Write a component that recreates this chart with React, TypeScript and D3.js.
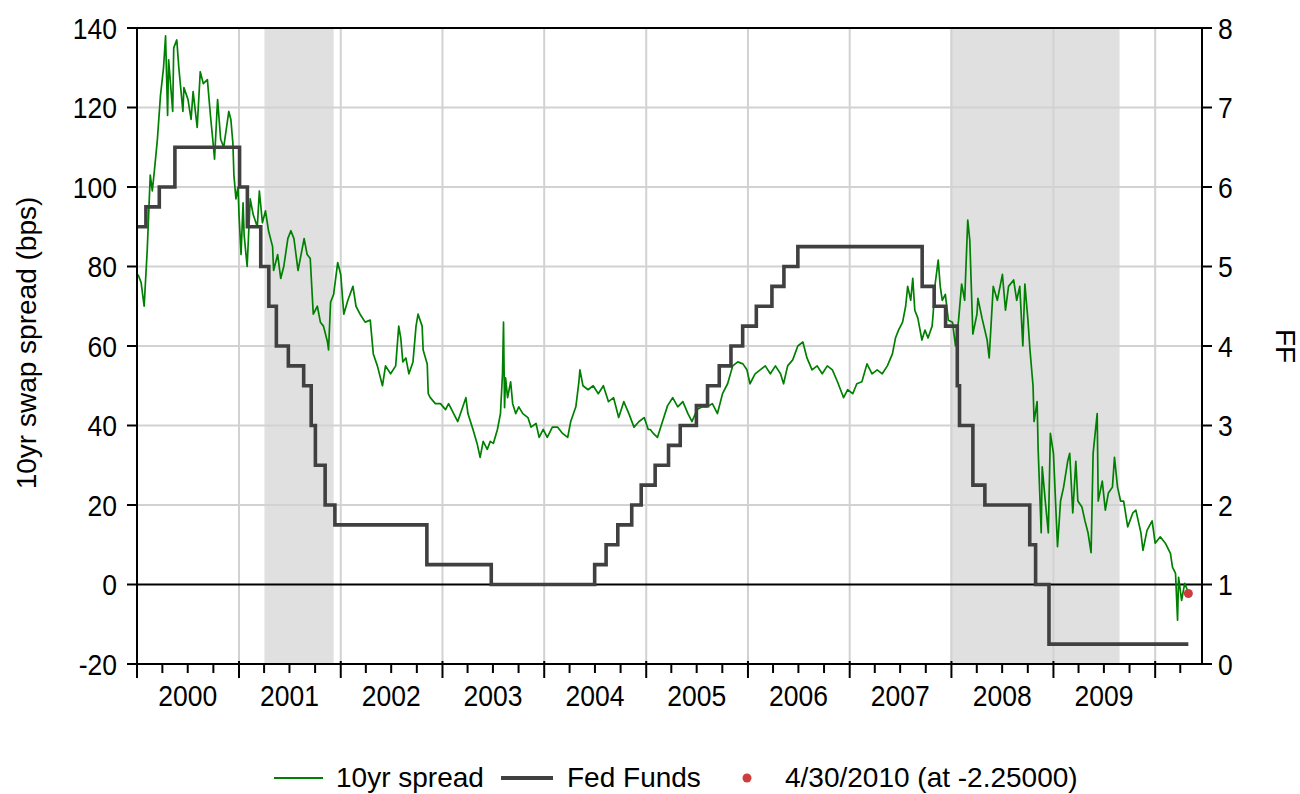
import React from "react";
import * as d3 from "d3";

// ---------- DATA ----------
// Fed funds target rate changes: [date, rate %]
const fedFundsDates = [
  "2000-01-01", "2000-02-02", "2000-03-21", "2000-05-16", "2001-01-03", "2001-01-31",
  "2001-03-20", "2001-04-18", "2001-05-15", "2001-06-27", "2001-08-21", "2001-09-17",
  "2001-10-02", "2001-11-06", "2001-12-11", "2002-11-06", "2003-06-25", "2004-06-30",
  "2004-08-10", "2004-09-21", "2004-11-10", "2004-12-14", "2005-02-02", "2005-03-22",
  "2005-05-03", "2005-06-30", "2005-08-09", "2005-09-20", "2005-11-01", "2005-12-13",
  "2006-01-31", "2006-03-28", "2006-05-10", "2006-06-29", "2007-09-18", "2007-10-31",
  "2007-12-11", "2008-01-22", "2008-01-30", "2008-03-18", "2008-04-30", "2008-10-08",
  "2008-10-29", "2008-12-16", "2010-04-30",
];
const fedFundsRates = [
  5.5, 5.75, 6.0, 6.5, 6.0, 5.5,
  5.0, 4.5, 4.0, 3.75, 3.5, 3.0,
  2.5, 2.0, 1.75, 1.25, 1.0, 1.25,
  1.5, 1.75, 2.0, 2.25, 2.5, 2.75,
  3.0, 3.25, 3.5, 3.75, 4.0, 4.25,
  4.5, 4.75, 5.0, 5.25, 4.75, 4.5,
  4.25, 3.5, 3.0, 2.25, 2.0, 1.5,
  1.0, 0.25, 0.25,
];

// 10yr swap spread (bps), [decimal year, value]
const spread: [number, number][] = [
  [2000.01,78],[2000.04,76],[2000.07,70],[2000.10,84],[2000.13,103],[2000.15,99],[2000.17,104],[2000.20,112],[2000.23,123],[2000.26,130],[2000.28,138],[2000.30,118],[2000.31,132],[2000.35,119],[2000.36,135],[2000.39,137],[2000.41,130],[2000.45,119],[2000.46,125],[2000.50,122],[2000.53,117],[2000.55,124],[2000.59,115],[2000.62,129],[2000.65,126],[2000.69,127],[2000.72,118],[2000.75,110],[2000.76,107],[2000.79,122],[2000.82,112],[2000.85,110],[2000.90,119],[2000.92,117],[2000.94,111],[2000.95,103],[2000.97,97],[2000.99,100],
  [2001.00,93],[2001.02,83],[2001.04,96],[2001.05,88],[2001.08,80],[2001.11,97],[2001.14,93],[2001.18,90],[2001.20,99],[2001.23,91],[2001.26,94],[2001.29,89],[2001.33,85],[2001.34,79],[2001.38,83],[2001.41,77],[2001.44,80],[2001.48,87],[2001.51,89],[2001.54,87],[2001.58,79],[2001.61,83],[2001.64,87],[2001.67,83],[2001.70,82],[2001.73,68],[2001.77,70],[2001.80,66],[2001.83,65],[2001.87,61],[2001.88,59],[2001.90,71],[2001.93,73],[2001.97,81],
  [2002.00,78],[2002.03,68],[2002.07,71.5],[2002.12,75],[2002.15,70],[2002.19,68],[2002.24,66],[2002.29,66.5],[2002.32,58],[2002.36,55],[2002.41,50],[2002.44,55],[2002.49,53],[2002.54,55],[2002.57,65],[2002.59,62],[2002.61,56],[2002.64,57],[2002.67,53],[2002.71,56],[2002.74,65],[2002.76,68],[2002.80,65],[2002.81,59],[2002.85,55.5],[2002.86,48],[2002.88,47],[2002.93,45.5],[2002.98,45.5],
  [2003.03,44],[2003.06,45.5],[2003.11,43],[2003.15,41],[2003.20,44.7],[2003.23,47],[2003.25,43],[2003.30,39],[2003.34,35.5],[2003.37,32],[2003.40,36],[2003.44,34],[2003.47,36],[2003.50,35.5],[2003.54,39],[2003.57,43],[2003.59,53],[2003.60,66],[2003.61,44.5],[2003.62,52],[2003.64,47],[2003.67,51],[2003.69,45.5],[2003.72,43],[2003.75,44.7],[2003.79,43],[2003.84,42],[2003.87,39.6],[2003.92,40.5],[2003.95,37],[2003.99,39],
  [2004.03,37],[2004.08,39.6],[2004.13,39.6],[2004.18,38],[2004.23,37],[2004.26,41],[2004.31,44.7],[2004.34,51],[2004.35,54],[2004.38,50],[2004.43,49],[2004.48,50],[2004.53,48],[2004.58,50],[2004.63,46],[2004.68,47],[2004.73,42],[2004.78,46],[2004.83,43],[2004.88,39.6],[2004.93,41],[2004.98,42],
  [2005.02,39],[2005.04,39],[2005.07,38],[2005.11,37],[2005.16,41],[2005.21,45],[2005.26,47],[2005.31,44.7],[2005.36,46],[2005.41,43],[2005.45,41],[2005.50,44],[2005.55,44.7],[2005.60,44.7],[2005.65,45.5],[2005.70,43],[2005.75,48],[2005.80,50.5],[2005.85,55],[2005.90,56],[2005.95,55.5],[2005.99,54],
  [2006.02,50.5],[2006.07,53],[2006.12,54],[2006.17,55],[2006.22,53],[2006.27,55],[2006.32,53],[2006.35,50.5],[2006.39,55],[2006.44,56.5],[2006.49,60],[2006.54,61],[2006.58,57],[2006.63,54],[2006.68,55],[2006.73,53],[2006.78,55],[2006.83,54],[2006.88,51],[2006.91,49],[2006.94,47],[2006.98,49],
  [2007.03,48],[2007.07,50.5],[2007.12,51],[2007.17,55.5],[2007.22,53],[2007.27,54],[2007.32,53],[2007.37,55],[2007.42,58],[2007.45,62],[2007.48,64],[2007.52,66],[2007.55,70],[2007.57,75],[2007.60,71.5],[2007.62,77],[2007.64,69],[2007.67,67],[2007.71,61.5],[2007.74,64],[2007.77,62],[2007.81,65],[2007.82,68],[2007.84,75.6],[2007.87,81.6],[2007.89,75],[2007.91,71.5],[2007.94,73],[2007.97,66.5],
  [2008.01,66],[2008.04,60],[2008.07,66.5],[2008.10,75.6],[2008.13,71.5],[2008.16,91.7],[2008.18,86.6],[2008.21,63],[2008.25,68],[2008.26,72],[2008.30,67],[2008.35,61.5],[2008.37,57],[2008.41,75],[2008.45,71.5],[2008.50,78],[2008.53,69],[2008.56,75],[2008.61,76.6],[2008.64,71.5],[2008.67,75],[2008.70,60],[2008.72,75.6],[2008.75,66.5],[2008.77,59],[2008.80,50],[2008.81,41],[2008.84,46],[2008.85,34],[2008.88,13],[2008.89,29.6],[2008.92,21],[2008.95,13],[2008.97,38],
  [2009.00,33],[2009.04,9.5],[2009.07,21],[2009.10,24.5],[2009.14,31],[2009.16,33],[2009.19,18],[2009.22,31],[2009.24,21],[2009.28,19.5],[2009.31,16],[2009.34,13],[2009.37,8],[2009.39,33],[2009.43,43],[2009.44,21],[2009.48,26],[2009.51,18.7],[2009.54,23],[2009.58,24.5],[2009.60,32],[2009.63,24.5],[2009.66,21],[2009.69,21],[2009.73,14.5],[2009.78,18],[2009.81,18.7],[2009.86,13],[2009.88,8.6],[2009.92,13.6],[2009.97,16],
  [2010.00,10.4],[2010.05,12],[2010.10,10.4],[2010.15,7.8],[2010.17,4.4],[2010.20,2.8],[2010.22,-9],[2010.23,1.8],[2010.26,-4],[2010.29,0.3],[2010.33,-2.25],
];

// Recession periods (shading), decimal years
const recessions: [number, number][] = [
  [2001.25, 2001.93],
  [2007.99, 2009.65],
];

const lastPointDate = "2010-04-30";
const lastPointValue = -2.25;

const leftTicks = [-20, 0, 20, 40, 60, 80, 100, 120, 140];
const rightTicks = [0, 1, 2, 3, 4, 5, 6, 7, 8];
const yearLabels = [2000, 2001, 2002, 2003, 2004, 2005, 2006, 2007, 2008, 2009];

const legendItems = ["10yr spread", "Fed Funds", "4/30/2010 (at -2.25000)"];

// ---------- HELPERS ----------
function decYear(t: number): Date {
  const y = Math.floor(t);
  const start = new Date(y, 0, 1).getTime();
  const end = new Date(y + 1, 0, 1).getTime();
  return new Date(start + (t - y) * (end - start));
}

const FONT = "'Liberation Sans', Arial, Helvetica, sans-serif";
const TICK_FS = 26.5;
const STRETCH = 1.13;

function TickText(props: { x: number; y: number; anchor: string; children: React.ReactNode }) {
  return (
    <g transform={`translate(${props.x},${props.y}) scale(1,${STRETCH})`}>
      <text x={0} y={0} textAnchor={props.anchor as any} fontSize={TICK_FS} fill="#000">
        {props.children}
      </text>
    </g>
  );
}

export default function App() {
  const left = 137;
  const right = 1202;
  const top = 28;
  const bottom = 664;

  const x = d3
    .scaleTime()
    .domain([new Date(2000, 0, 1), new Date(2010, 5, 18)])
    .range([left, right]);
  const yL = d3.scaleLinear().domain([-20, 140]).range([bottom, top]);
  const yR = d3.scaleLinear().domain([0, 8]).range([bottom, top]);

  const parse = d3.timeParse("%Y-%m-%d");
  const ffData = fedFundsDates.map((d, i) => ({ date: parse(d) as Date, v: fedFundsRates[i] }));
  const ffLine = d3
    .line<{ date: Date; v: number }>()
    .x((d) => x(d.date))
    .y((d) => yR(d.v))
    .curve(d3.curveStepAfter);

  const spLine = d3
    .line<[number, number]>()
    .x((d) => x(decYear(d[0])))
    .y((d) => yL(d[1]));

  const yearStarts = d3.range(2001, 2011).map((y) => new Date(y, 0, 1));
  const majorTicks = d3.range(2000, 2011).map((y) => new Date(y, 0, 1));
  const minorTicks = d3
    .timeMonth.every(3)!
    .range(new Date(2000, 0, 1), new Date(2010, 5, 18))
    .filter((d) => d.getMonth() !== 0);

  const lastDate = parse(lastPointDate) as Date;
  // vertical offset so that digits are centred on the tick (cap height ~0.716em, stretched)
  const vOff = (TICK_FS * 0.716 * STRETCH) / 2;

  return (
    <svg
      width={1300}
      height={794}
      style={{ position: "absolute", left: 0, top: 0, background: "#fff" }}
      fontFamily={FONT}
    >
      <rect x={0} y={0} width={1300} height={794} fill="#fff" />
      {/* recession shading */}
      {recessions.map(([a, b], i) => (
        <rect
          key={i}
          x={x(decYear(a))}
          y={top}
          width={x(decYear(b)) - x(decYear(a))}
          height={bottom - top}
          fill="#e0e0e0"
        />
      ))}
      {/* horizontal grid */}
      {leftTicks
        .filter((t) => t !== -20 && t !== 140 && t !== 0)
        .map((t) => (
          <line key={t} x1={left} x2={right} y1={yL(t)} y2={yL(t)} stroke="#d2d2d2" strokeWidth={2} />
        ))}
      {/* vertical grid */}
      {yearStarts.map((d, i) => (
        <line key={i} x1={x(d)} x2={x(d)} y1={top} y2={bottom} stroke="#d2d2d2" strokeWidth={2} />
      ))}
      {/* zero line */}
      <line x1={left} x2={right} y1={yL(0)} y2={yL(0)} stroke="#000" strokeWidth={2} />

      {/* series */}
      <path d={spLine(spread) || ""} fill="none" stroke="#008000" strokeWidth={1.7} strokeLinejoin="round" />
      <path d={ffLine(ffData) || ""} fill="none" stroke="#404040" strokeWidth={3.6} />
      <circle cx={x(lastDate)} cy={yL(lastPointValue)} r={4.5} fill="#cc3d3d" />

      {/* frame */}
      <line x1={left} x2={right} y1={top} y2={top} stroke="#000" strokeWidth={2} />
      <line x1={left} x2={right} y1={bottom} y2={bottom} stroke="#000" strokeWidth={2} />
      <line x1={left} x2={left} y1={top - 1} y2={bottom + 1} stroke="#000" strokeWidth={2} />
      <line x1={right} x2={right} y1={top - 1} y2={bottom + 1} stroke="#000" strokeWidth={2} />

      {/* left axis */}
      {leftTicks.map((t) => (
        <g key={t}>
          <line x1={left - 10} x2={left} y1={yL(t)} y2={yL(t)} stroke="#000" strokeWidth={2} />
          <TickText x={117} y={yL(t) + vOff} anchor="end">
            {t}
          </TickText>
        </g>
      ))}
      {/* right axis */}
      {rightTicks.map((t) => (
        <g key={t}>
          <line x1={right} x2={right + 10} y1={yR(t)} y2={yR(t)} stroke="#000" strokeWidth={2} />
          <TickText x={1218} y={yR(t) + vOff} anchor="start">
            {t}
          </TickText>
        </g>
      ))}
      {/* bottom axis */}
      {majorTicks.map((d, i) => (
        <line key={"M" + i} x1={x(d)} x2={x(d)} y1={bottom - 3} y2={bottom + 14} stroke="#000" strokeWidth={2} />
      ))}
      {minorTicks.map((d, i) => (
        <line key={"m" + i} x1={x(d)} x2={x(d)} y1={bottom} y2={bottom + 9} stroke="#000" strokeWidth={2} />
      ))}
      {yearLabels.map((y) => (
        <TickText key={y} x={x(new Date(y, 6, 1))} y={706} anchor="middle">
          {y}
        </TickText>
      ))}

      {/* axis titles */}
      <text
        transform={`translate(36, 343) rotate(-90)`}
        textAnchor="middle"
        fontSize={28}
        fill="#000"
      >
        10yr swap spread (bps)
      </text>
      <text transform={`translate(1276, 346) rotate(90)`} textAnchor="middle" fontSize={28} fill="#000">
        FF
      </text>

      {/* legend */}
      <line x1={274} x2={323} y1={778} y2={778} stroke="#008000" strokeWidth={2} />
      <text x={336} y={787} fontSize={28} fill="#000">
        {legendItems[0]}
      </text>
      <line x1={501} x2={553} y1={778} y2={778} stroke="#404040" strokeWidth={4} />
      <text x={567} y={787} fontSize={28} fill="#000">
        {legendItems[1]}
      </text>
      <circle cx={747} cy={778} r={4.5} fill="#cc3d3d" />
      <text x={785} y={787} fontSize={28} fill="#000">
        {legendItems[2]}
      </text>
    </svg>
  );
}
